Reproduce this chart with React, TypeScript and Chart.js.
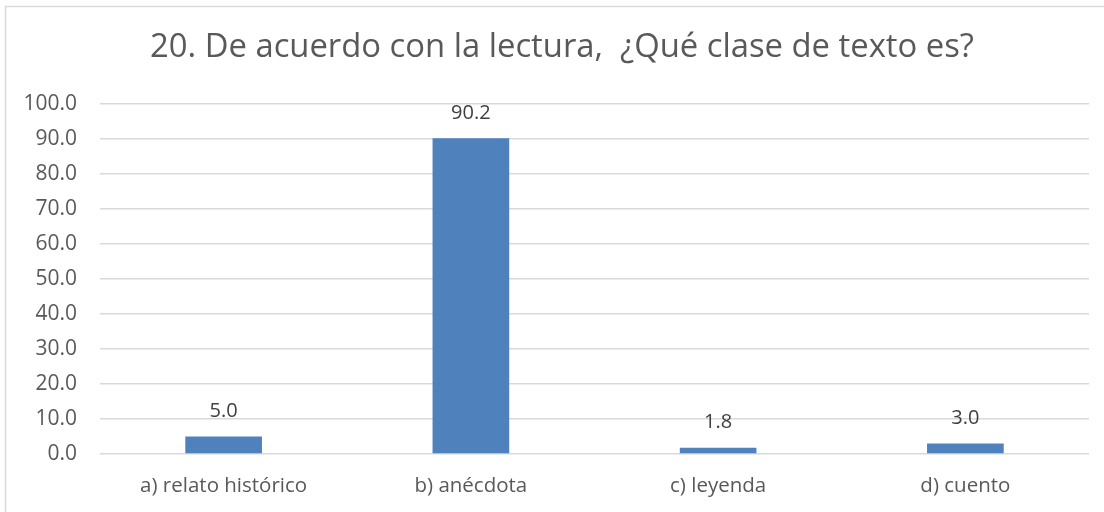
import React, { useEffect, useRef } from "react";
import { Chart, registerables } from "chart.js";

Chart.register(...registerables);

const categories = ["a) relato histórico", "b) anécdota", "c) leyenda", "d) cuento"];
const values = [5.0, 90.2, 1.8, 3.0];
const titleText = "20. De acuerdo con la lectura,  ¿Qué clase de texto es?";
const FONT = "'Open Sans', 'Noto Sans', sans-serif";

const frame = {
  id: "frame",
  beforeDraw(chart: any) {
    const ctx = chart.ctx;
    ctx.save();
    ctx.fillStyle = "#ffffff";
    ctx.fillRect(0, 0, chart.width, chart.height);
    ctx.strokeStyle = "#d9d9d9";
    ctx.lineWidth = 1.5;
    ctx.beginPath();
    ctx.moveTo(5.5, chart.height);
    ctx.lineTo(5.5, 6.5);
    ctx.lineTo(chart.width, 6.5);
    ctx.stroke();
    ctx.font = `32.8px ${FONT}`;
    ctx.fillStyle = "#595959";
    ctx.textAlign = "center";
    ctx.textBaseline = "middle";
    ctx.fillText(titleText, 562, 48);
    ctx.restore();
  },
};

const dataLabels = {
  id: "dataLabels",
  afterDatasetsDraw(chart: any) {
    const ctx = chart.ctx;
    const meta = chart.getDatasetMeta(0);
    ctx.save();
    ctx.font = `20px ${FONT}`;
    ctx.fillStyle = "#404040";
    ctx.textAlign = "center";
    ctx.textBaseline = "middle";
    meta.data.forEach((bar: any, i: number) => {
      ctx.fillText(values[i].toFixed(1), bar.x, bar.y - 25);
    });
    ctx.restore();
  },
};

export default function App() {
  const ref = useRef<HTMLCanvasElement>(null);
  useEffect(() => {
    const chart = new Chart(ref.current!, {
      type: "bar",
      data: {
        labels: categories,
        datasets: [
          {
            data: values,
            backgroundColor: "#4f81bd",
            borderColor: "#4f81bd",
            borderWidth: 0,
            barPercentage: 0.31,
            categoryPercentage: 1,
          },
        ],
      },
      options: {
        animation: false,
        responsive: false,
        maintainAspectRatio: false,
        layout: { padding: { left: 0, right: 15, top: 104, bottom: 0 } },
        plugins: {
          legend: { display: false },
          tooltip: { enabled: false },
          title: { display: false },
        },
        scales: {
          x: {
            grid: { display: false, drawTicks: false },
            border: { display: false },
            ticks: { color: "#595959", font: { family: FONT, size: 20.5 }, padding: 20 },
            afterFit(scale: any) {
              scale.height = 58;
            },
          },
          y: {
            min: 0,
            max: 100,
            grid: { color: "#d9d9d9", lineWidth: 1.5, drawTicks: false },
            border: { display: false },
            ticks: {
              stepSize: 10,
              color: "#595959",
              font: { family: FONT, size: 21 },
              padding: 23,
              callback: (v: any) => Number(v).toFixed(1),
            },
            afterFit(scale: any) {
              scale.width = 100;
            },
          },
        },
      },
      plugins: [frame, dataLabels],
    });
    return () => chart.destroy();
  }, []);
  return (
    <div style={{ position: "absolute", left: 0, top: 0, width: 1104, height: 512 }}>
      <canvas ref={ref} width={1104} height={512} style={{ display: "block" }} />
    </div>
  );
}
